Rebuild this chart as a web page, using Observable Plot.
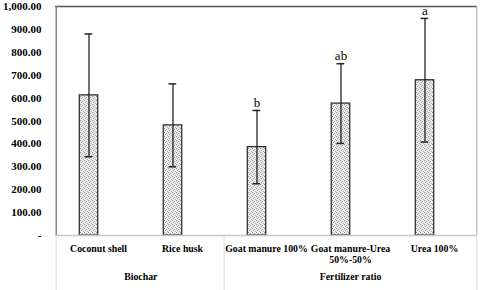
<!DOCTYPE html>
<html><head><meta charset="utf-8">
<script src="https://cdn.jsdelivr.net/npm/d3@7"></script>
<script src="https://cdn.jsdelivr.net/npm/@observablehq/plot@0.6"></script>
<style>body{margin:0;background:#fff}</style>
</head><body><div id="chart"></div>
<script>
const categories = ["Coconut shell","Rice husk","Goat manure 100%","Goat manure-Urea 50%-50%","Urea 100%"];
const tickLabels = ["Coconut shell","Rice husk","Goat manure 100%","Goat manure-Urea\n50%-50%","Urea 100%"];
const groupNames = ["Biochar","Fertilizer ratio"];
const means = [612, 481, 386, 576, 678];
const errors = [268, 181, 160, 174, 270];
const letters = ["", "", "b", "ab", "a"];
const yTicks = [0,100,200,300,400,500,600,700,800,900,1000];

const data = categories.map((c,i)=>({cat:c, mean:means[i], lo:means[i]-errors[i], hi:means[i]+errors[i], letter:letters[i]}));
const serif = "'Liberation Serif','Times New Roman',serif";
const BAR_DX = -9.5;
const HALF = 42.3;

const chart = Plot.plot({
  width: 480, height: 290,
  marginLeft: 55, marginRight: 3, marginTop: 6, marginBottom: 55,
  style: {fontFamily: serif, background: "#fff"},
  x: {domain: categories, padding: 0, axis: null},
  y: {domain: [0, 1000], axis: null},
  marks: [
    Plot.barY(data, {x:"cat", y:"mean", fill:"url(#dots)", stroke:"#333", strokeWidth:1.3, insetLeft:23.3, insetRight:42.3}),
    Plot.ruleX(data, {x:"cat", y1:"lo", y2:"hi", stroke:"#222", strokeWidth:1.3, dx:BAR_DX}),
    Plot.tickY(data, {x:"cat", y:"hi", stroke:"#222", strokeWidth:1.5, insetLeft:28.5, insetRight:47.8}),
    Plot.tickY(data, {x:"cat", y:"lo", stroke:"#222", strokeWidth:1.5, insetLeft:28.5, insetRight:47.8}),
    Plot.text(data, {x:"cat", y:"hi", text:"letter", dx:BAR_DX, dy:-8, fontSize:13, fill:"black"}),
    // frame
    Plot.ruleY([1000], {stroke:"#555", strokeWidth:1.6}),
    Plot.ruleX([categories[0]], {dx:-HALF, stroke:"#777", strokeWidth:1.3}),
    Plot.ruleX([categories[4]], {dx:HALF, stroke:"#bbb", strokeWidth:1.3}),
    Plot.ruleY([0], {stroke:"#c8c8c8", strokeWidth:1.3}),
    // category dividers in bottom area
    Plot.ruleX([categories[0], categories[2]], {y1:0, y2:0, insetBottom:-55, dx:-HALF, stroke:"#ddd", strokeWidth:1}),
    Plot.ruleX([categories[4]], {y1:0, y2:0, insetBottom:-55, dx:HALF, stroke:"#ddd", strokeWidth:1}),
    // y axis
    Plot.axisY(yTicks, {tickSize:0, tickPadding:14, fontWeight:"bold", fontSize:11, fill:"black", label:null,
      tickFormat: d => d === 0 ? "-" : d3.format(",.2f")(d)}),
    // x category labels
    Plot.axisX({tickSize:0, tickPadding:9, fontWeight:"bold", fontSize:9.8, fill:"black", lineHeight:1.1, label:null,
      tickFormat: d => tickLabels[categories.indexOf(d)]}),
    // group labels
    Plot.text([groupNames[0]], {x:() => categories[0], y:() => 0, text:d => d, dx:HALF, dy:41, fontWeight:"bold", fontSize:9.8, fill:"black"}),
    Plot.text([groupNames[1]], {x:() => categories[3], y:() => 0, text:d => d, dy:41, fontWeight:"bold", fontSize:9.8, fill:"black"})
  ]
});
const ns = "http://www.w3.org/2000/svg";
const defs = document.createElementNS(ns, "defs");
defs.innerHTML = `<pattern id="dots" width="4" height="4" patternUnits="userSpaceOnUse">
  <rect width="4" height="4" fill="#ececec"/>
  <rect x="0" y="0" width="1" height="1" fill="#8a8a8a"/>
  <rect x="2" y="1" width="1" height="1" fill="#a0a0a0"/>
  <rect x="1" y="2" width="1" height="1" fill="#999"/>
  <rect x="3" y="3" width="1" height="1" fill="#aaa"/>
</pattern>`;
chart.insertBefore(defs, chart.firstChild);
document.getElementById("chart").appendChild(chart);
</script>
</body></html>
